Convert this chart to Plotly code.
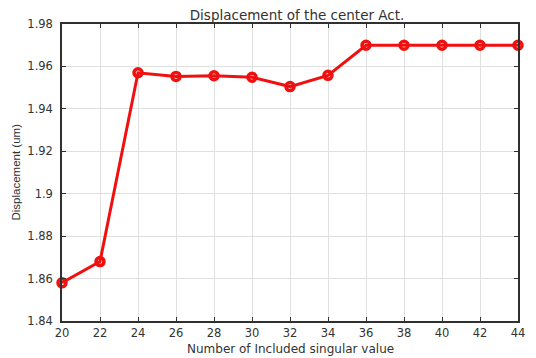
import plotly.graph_objects as go

# Number of included singular values and resulting displacement of the center actuator
n_singular = [20, 22, 24, 26, 28, 30, 32, 34, 36, 38, 40, 42, 44]
displacement = [1.858, 1.868, 1.957, 1.9553, 1.9556, 1.9549, 1.9505, 1.9558,
                1.970, 1.970, 1.970, 1.970, 1.970]

x_ticks = list(range(20, 45, 2))
y_ticks = [1.84, 1.86, 1.88, 1.90, 1.92, 1.94, 1.96, 1.98]
y_tick_text = ["1.84", "1.86", "1.88", "1.9", "1.92", "1.94", "1.96", "1.98"]

WIDE = "DejaVu Sans, Verdana, sans-serif"
NARROW = "Liberation Sans, Arial, sans-serif"
INK = "#333333"

fig = go.Figure()
fig.add_trace(go.Scatter(
    x=n_singular, y=displacement,
    mode="lines+markers",
    line=dict(color="#f01010", width=3),
    marker=dict(symbol="circle-open", size=8, color="#f01010",
                line=dict(width=3.5, color="#f01010")),
    cliponaxis=False,
    showlegend=False,
))

axis_common = dict(
    showline=True, linecolor="#303030", linewidth=1.5, mirror="ticks",
    ticks="inside", ticklen=4, tickcolor="#303030",
    showgrid=True, gridcolor="#e0e0e0", gridwidth=1,
    zeroline=False, automargin=False,
    tickfont=dict(family=WIDE, size=11.5, color=INK),
)

fig.update_layout(
    width=536, height=358,
    margin=dict(l=62, r=18, t=24, b=37),
    paper_bgcolor="white", plot_bgcolor="white",
    title=dict(text="Displacement of the center Act.",
               x=297 / 536, xanchor="center", y=1 - 15 / 358, yanchor="middle",
               font=dict(family=WIDE, size=13.5, color=INK)),
    xaxis=dict(range=[20, 44], tickvals=x_ticks, ticklabelstandoff=0, **axis_common),
    yaxis=dict(range=[1.84, 1.98], tickvals=y_ticks, ticktext=y_tick_text,
               ticklabelstandoff=5, **axis_common),
)

# Axis titles placed as free text
fig.add_annotation(
    text="Number of Included singular value",
    xref="paper", yref="paper", x=0.5, y=-28 / 297,
    xanchor="center", yanchor="middle", showarrow=False,
    font=dict(family=WIDE, size=12, color=INK),
)
fig.add_annotation(
    text="Displacement (um)", textangle=-90,
    xref="paper", yref="paper", x=-47 / 456, y=0.5,
    xanchor="center", yanchor="middle", showarrow=False,
    font=dict(family=NARROW, size=11.5, color=INK),
)

fig.write_html("out.html")
